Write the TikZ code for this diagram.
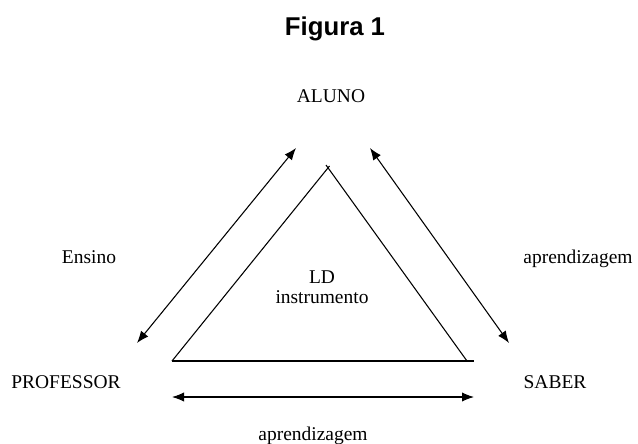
\documentclass[tikz,border=0pt]{standalone}
\usepackage{fontspec}
\setmainfont{Liberation Serif}
\setsansfont{Liberation Sans}
\usetikzlibrary{arrows.meta}
\begin{document}
\begin{tikzpicture}[x=0.75pt,y=-0.75pt,
	label/.style={inner sep=0,anchor=base,font=\fontsize{14.6}{17}\selectfont},
	title/.style={inner sep=0,anchor=base,font=\sffamily\bfseries\fontsize{19.3}{23}\selectfont},
	side/.style={line width=0.8pt},
	relation/.style={line width=0.8pt,{Latex[length=9pt,width=7pt]}-{Latex[length=9pt,width=7pt]}}]
\useasboundingbox (0,0) rectangle (638,443);
\node[title] (fig) at (335,35) {Figura 1};
\node[label] (aluno) at (331,102) {ALUNO};
\node[label] (professor) at (66,388) {PROFESSOR};
\node[label] (saber) at (555,388) {SABER};
\node[label] (ensino) at (89,263) {Ensino};
\node[label] (aprendA) at (578,263) {aprendizagem};
\node[label] (aprendB) at (313,440) {aprendizagem};
\node[label] (ld) at (322,283) {LD};
\node[label] (instr) at (322,303) {instrumento};
\coordinate (topL) at (329.5,166);
\coordinate (topR) at (326,165);
\coordinate (left) at (172,361);
\coordinate (right) at (467,361);
\coordinate (baseend) at (474,361);
\draw[side] (left) -- (topL);
\draw[side] (topR) -- (right);
\draw[side] (left) -- (baseend);
\coordinate (pa) at (296,148);
\coordinate (pb) at (137,343);
\coordinate (sa) at (370,148);
\coordinate (sb) at (509,343);
\coordinate (ba) at (172,397);
\coordinate (bb) at (474,397);
\draw[relation] (pa) -- (pb);
\draw[relation] (sa) -- (sb);
\draw[relation] (ba) -- (bb);
\end{tikzpicture}
\end{document}
